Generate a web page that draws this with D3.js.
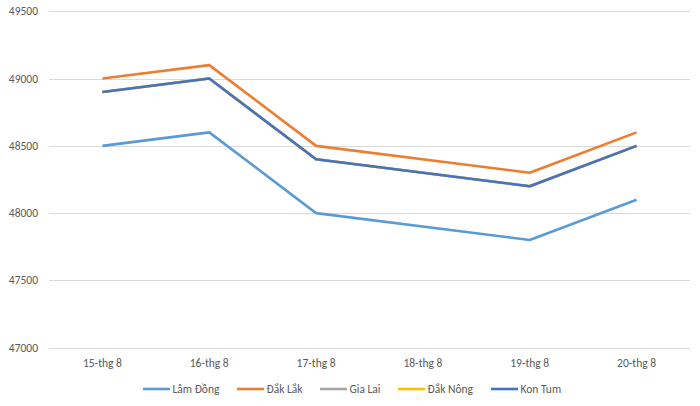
<!DOCTYPE html>
<html><head><meta charset="utf-8">
<script src="https://cdn.jsdelivr.net/npm/d3@7"></script>
<style>body{margin:0;background:#fff}svg{display:block;font-family:Carlito,"Liberation Sans",Arial,sans-serif}</style>
</head><body><svg id="c" width="700" height="406"></svg>
<script>
const categories = ["15-thg 8","16-thg 8","17-thg 8","18-thg 8","19-thg 8","20-thg 8"];
const seriesNames = ["Lâm Đồng","Đắk Lắk","Gia Lai","Đắk Nông","Kon Tum"];
const lamDong = [48500,48600,48000,null,47800,48100];
const dakLak  = [49000,49100,48500,null,48300,48600];
const giaLai  = [48900,49000,48400,null,48200,48500];
const dakNong = [48900,49000,48400,null,48200,48500];
const konTum  = [48900,49000,48400,null,48200,48500];
const yTicks = [47000,47500,48000,48500,49000,49500];
const colors = ["#5B9BD5","#ED7D31","#A5A5A5","#FFC000","#4472C4"];
const series = [lamDong,dakLak,giaLai,dakNong,konTum];

const svg = d3.select("#c");
const L=49,R=690,T=11.3,B=347.7;
const x = d3.scaleBand().domain(categories).range([L,R]);
const y = d3.scaleLinear().domain([47000,49500]).range([B,T]);

svg.append("g").selectAll("line").data(yTicks).join("line")
  .attr("x1",L).attr("x2",R).attr("y1",d=>Math.round(y(d))+0.5).attr("y2",d=>Math.round(y(d))+0.5)
  .attr("stroke","#d9d9d9").attr("stroke-width",1);

svg.append("g").selectAll("text").data(yTicks).join("text")
  .attr("x",38).attr("y",d=>y(d)+4).attr("text-anchor","end")
  .attr("font-size",11.5).attr("fill","#595959").text(d=>d);

svg.append("g").selectAll("text").data(categories).join("text")
  .attr("x",d=>x(d)+x.bandwidth()/2).attr("y",367).attr("text-anchor","middle")
  .attr("font-size",11.5).attr("fill","#595959").text(d=>d);

const line = d3.line().x(d=>x(d.c)+x.bandwidth()/2).y(d=>y(d.v));
series.forEach((s,i)=>{
  const pts = s.map((v,j)=>({c:categories[j],v})).filter(d=>d.v!=null);
  svg.append("path").attr("d",line(pts)).attr("fill","none")
    .attr("stroke",colors[i]).attr("stroke-width",2.6).attr("stroke-linejoin","round");
});

const legX = [143,237,320,398,491];
const lg = svg.append("g");
seriesNames.forEach((n,i)=>{
  lg.append("line").attr("x1",legX[i]).attr("x2",legX[i]+27).attr("y1",389).attr("y2",389)
    .attr("stroke",colors[i]).attr("stroke-width",2.6);
  lg.append("text").attr("x",legX[i]+29.5).attr("y",393).attr("font-size",11.5)
    .attr("fill","#595959").text(n);
});
</script></body></html>
